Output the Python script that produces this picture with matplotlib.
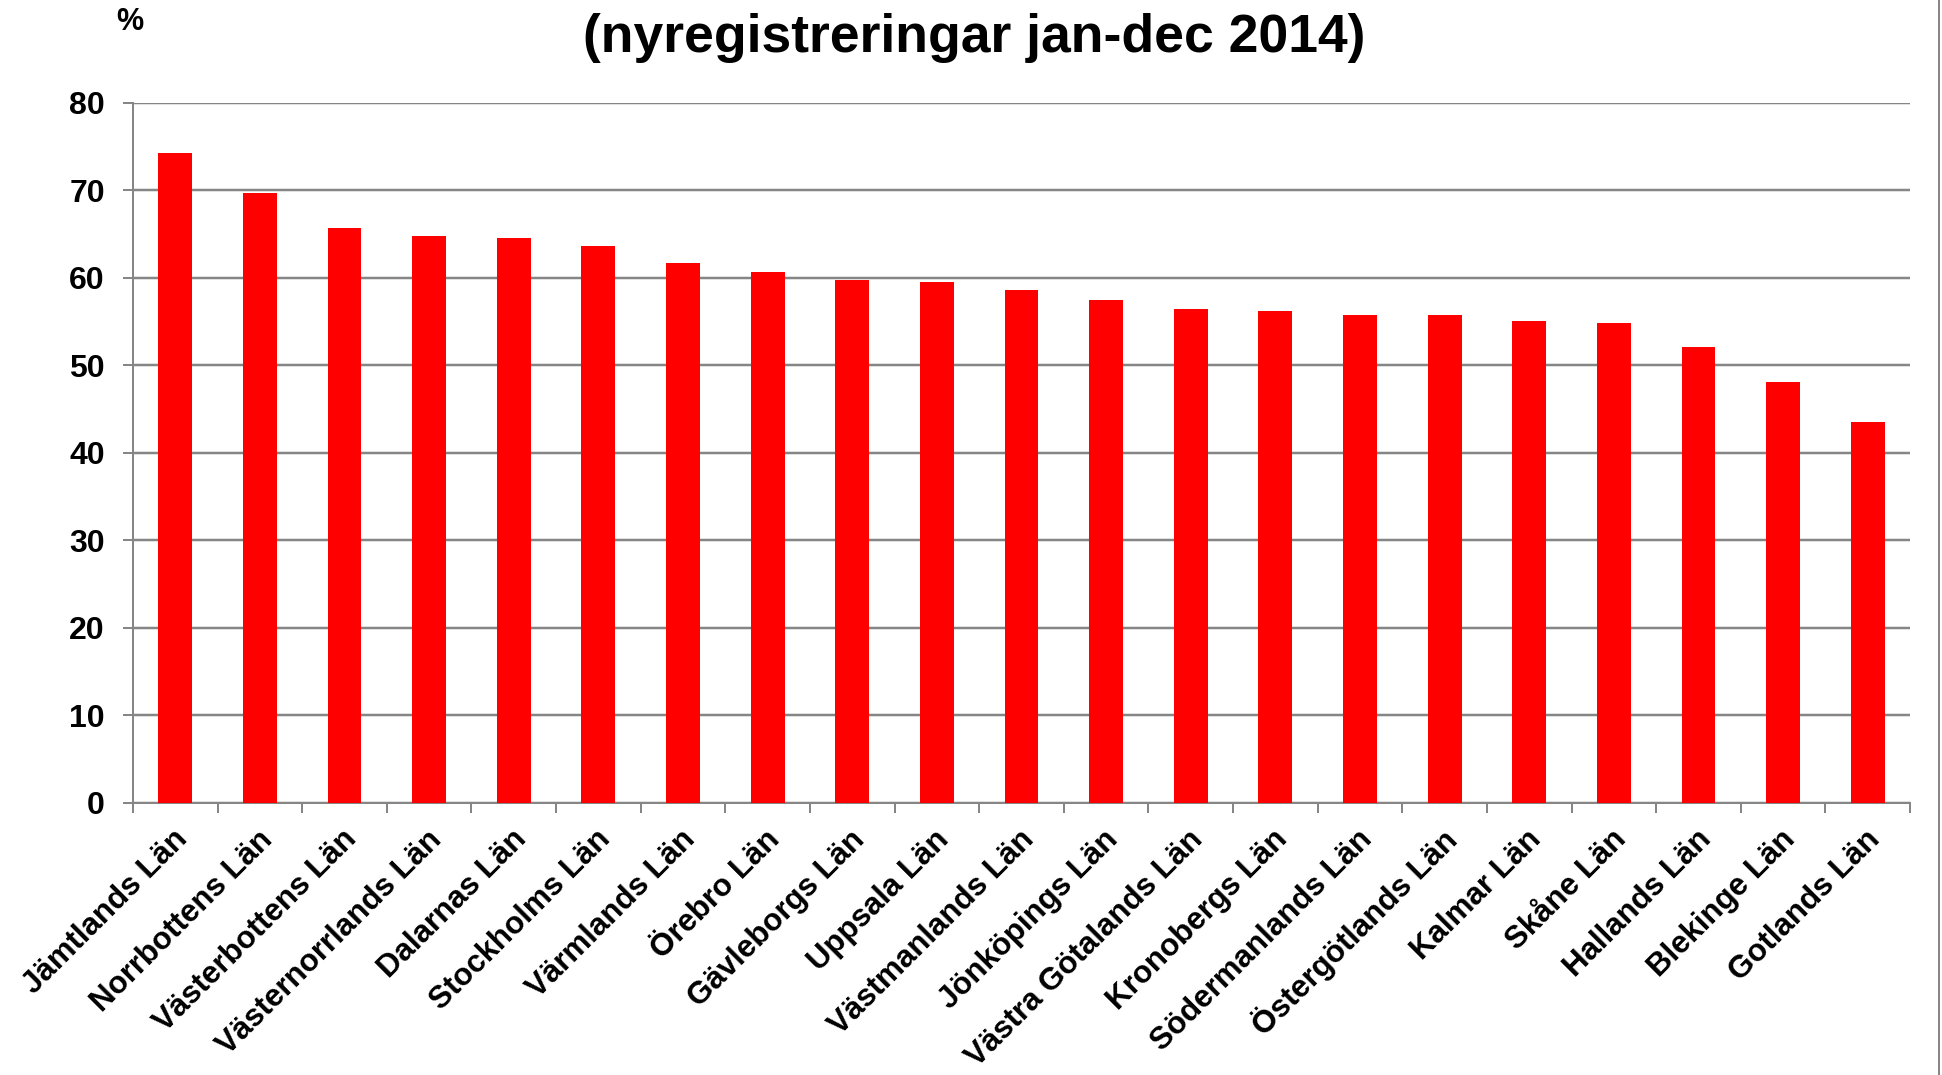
#!/usr/bin/env python3

import matplotlib as mpl
mpl.use('Agg')
import matplotlib.pyplot as plt
import matplotlib.transforms as mtransforms
from matplotlib.lines import Line2D

import numpy as np

# Share of new registrations per county, jan-dec 2014 (%)
counties = [
    'Jämtlands Län', 'Norrbottens Län', 'Västerbottens Län',
    'Västernorrlands Län', 'Dalarnas Län', 'Stockholms Län',
    'Värmlands Län', 'Örebro Län', 'Gävleborgs Län', 'Uppsala Län',
    'Västmanlands Län', 'Jönköpings Län', 'Västra Götalands Län',
    'Kronobergs Län', 'Södermanlands Län', 'Östergötlands Län',
    'Kalmar Län', 'Skåne Län', 'Hallands Län', 'Blekinge Län',
    'Gotlands Län',
]
shares = [74.3, 69.7, 65.7, 64.8, 64.6, 63.6, 61.7, 60.7, 59.7, 59.5,
          58.6, 57.5, 56.4, 56.2, 55.8, 55.7, 55.1, 54.8, 52.1, 48.1, 43.5]
yticks = [0, 10, 20, 30, 40, 50, 60, 70, 80]

title = '(nyregistreringar jan-dec 2014)'
unit = '%'

grey = '#868686'
red = '#FF0000'
px = 72 / 100  # points per pixel at dpi 100

style = {
    'font.family': ['Liberation Sans', 'DejaVu Sans'],
    'font.weight': 'bold',
    'axes.linewidth': 2 * px,
    'axes.edgecolor': grey,
}
for k, v in style.items():
    mpl.rcParams[k] = v

fig = plt.figure(figsize=(19.42, 10.75), dpi=100)
ax = fig.add_axes([133 / 1942, 1 - 803 / 1075,
                   (1910 - 133) / 1942, (803 - 102.7) / 1075])

x = np.arange(len(counties))
ax.bar(x, shares, width=0.4, color=red, zorder=3)

ax.set_xlim(-0.5, len(counties) - 0.5)
ax.set_ylim(yticks[0], yticks[-1])
ax.set_yticks(yticks)
ax.yaxis.grid(True, color=grey, linewidth=2.5 * px, zorder=0)
ax.set_axisbelow(True)

for side in ('top', 'right'):
    ax.spines[side].set_visible(False)

# category boundaries get the tick marks, labels sit at bar centres
ax.set_xticks(np.arange(-0.5, len(counties)), minor=True)
ax.set_xticks(x)
ax.set_xticklabels(counties, rotation=45, ha='right', va='center',
                   rotation_mode='anchor', fontsize=22.5, fontweight='bold')
ax.tick_params(axis='x', which='major', length=0, pad=23)
ax.tick_params(axis='x', which='minor', length=10 * px, width=2 * px,
               color=grey)
ax.tick_params(axis='y', length=10 * px, width=2 * px, color=grey,
               labelsize=23, pad=13)
for lab in ax.get_yticklabels():
    lab.set_fontweight('bold')

offset = mtransforms.ScaledTranslation(8 / 100, 0, fig.dpi_scale_trans)
for lab in ax.get_xticklabels():
    lab.set_transform(lab.get_transform() + offset)

fig.text(974 / 1942, 1 - 38 / 1075, title, ha='center', va='center',
         fontsize=38.5, fontweight='bold')
fig.text(130 / 1942, 1 - 22 / 1075, unit, ha='center', va='center',
         fontsize=22, fontweight='bold')

# right frame edge of the original chart area
fig.add_artist(Line2D([1939 / 1942] * 2, [0, 1], transform=fig.transFigure,
                      color=grey, linewidth=2 * px))

fig.savefig('out.png', dpi=100, facecolor='white')
